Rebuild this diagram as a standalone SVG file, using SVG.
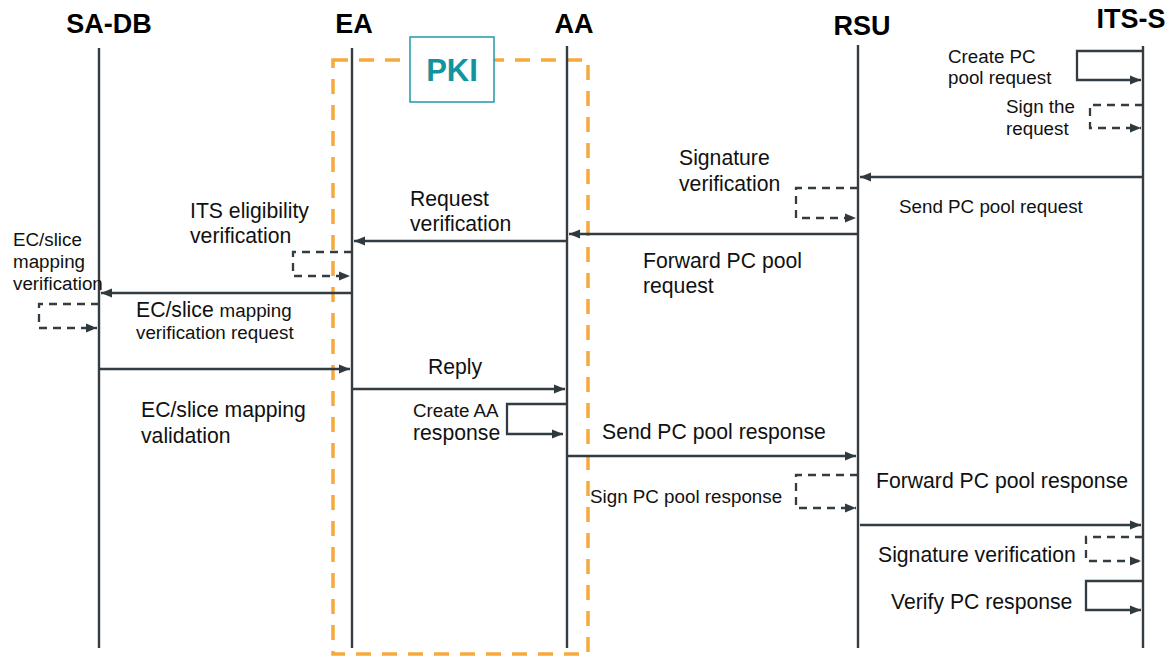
<svg xmlns="http://www.w3.org/2000/svg" width="1175" height="657" viewBox="0 0 1175 657">
<style>
.hdr{font-family:"Liberation Sans",Arial,sans-serif;font-weight:bold;font-size:27px;fill:#000;text-anchor:middle}
.life{stroke:#363d42;stroke-width:2.4;fill:none}
.msg{stroke:#333c42;stroke-width:2.3;fill:none}
.dash{stroke:#333c42;stroke-width:2.3;fill:none;stroke-dasharray:8 6}
.lg{font-family:"Liberation Sans",Arial,sans-serif;font-size:21.2px;fill:#111}
.sm{font-family:"Liberation Sans",Arial,sans-serif;font-size:18.8px;fill:#111}
.pki{fill:none;stroke:#f7a93d;stroke-width:3.5;stroke-dasharray:15 11}
</style>
<defs>
<marker id="ah" markerUnits="userSpaceOnUse" markerWidth="12" markerHeight="10" refX="11" refY="5" orient="auto">
<path d="M0,0.5 L11,5 L0,9.5 z" fill="#2f3a40"/>
</marker>
</defs>
<rect width="1175" height="657" fill="#fff"/>

<g id="pki-boundary">
<rect class="pki" x="333" y="60" width="255" height="594"/>
</g>

<g id="node-sadb">
<text class="hdr" x="109" y="33">SA-DB</text>
<line class="life" x1="99" y1="48" x2="99" y2="648"/>
</g>
<g id="node-ea">
<text class="hdr" x="354" y="33">EA</text>
<line class="life" x1="352" y1="48" x2="352" y2="648"/>
</g>
<g id="node-aa">
<text class="hdr" x="574" y="33">AA</text>
<line class="life" x1="567" y1="46" x2="567" y2="648"/>
</g>
<g id="node-rsu">
<text class="hdr" x="862" y="35">RSU</text>
<line class="life" x1="858" y1="45" x2="858" y2="648"/>
</g>
<g id="node-itss">
<text class="hdr" x="1131" y="28">ITS-S</text>
<line class="life" x1="1143" y1="46" x2="1143" y2="648"/>
</g>
<g id="node-pki">
<rect x="410" y="37" width="84" height="65" fill="#fff" stroke="#1f9aa5" stroke-width="1.5"/>
<text x="452" y="81" text-anchor="middle" font-family="Liberation Sans, Arial, sans-serif" font-weight="bold" font-size="31" fill="#12949e">PKI</text>
</g>

<g id="connectors">
<path class="msg" d="M1143,51 H1077 V80 H1141" marker-end="url(#ah)"/>
<path class="dash" d="M1143,105 H1090 V128 H1141" marker-end="url(#ah)"/>
<path class="msg" d="M1143,177 H860" marker-end="url(#ah)"/>
<path class="dash" d="M858,188 H796 V218 H856" marker-end="url(#ah)"/>
<path class="msg" d="M858,234 H569" marker-end="url(#ah)"/>
<path class="msg" d="M567,241 H354" marker-end="url(#ah)"/>
<path class="dash" d="M352,252 H293 V276 H350" marker-end="url(#ah)"/>
<path class="msg" d="M352,293 H101" marker-end="url(#ah)"/>
<path class="dash" d="M99,304 H39 V328 H97" marker-end="url(#ah)"/>
<path class="msg" d="M99,369 H350" marker-end="url(#ah)"/>
<path class="msg" d="M352,389 H565" marker-end="url(#ah)"/>
<path class="msg" d="M567,404 H507 V434 H563" marker-end="url(#ah)"/>
<path class="msg" d="M567,456 H856" marker-end="url(#ah)"/>
<path class="dash" d="M858,475 H796 V508 H856" marker-end="url(#ah)"/>
<path class="msg" d="M860,525 H1141" marker-end="url(#ah)"/>
<path class="dash" d="M1143,537 H1086 V561 H1141" marker-end="url(#ah)"/>
<path class="msg" d="M1143,581 H1086 V610 H1141" marker-end="url(#ah)"/>

<g id="labels">
<text class="sm" x="948" y="63">Create PC</text>
<text class="sm" x="948" y="84">pool request</text>
<text class="sm" x="1006" y="113">Sign the</text>
<text class="sm" x="1006" y="135">request</text>
<text class="lg" x="679" y="165">Signature</text>
<text class="lg" x="679" y="191">verification</text>
<text class="sm" x="899" y="213">Send PC pool request</text>
<text class="lg" x="410" y="206">Request</text>
<text class="lg" x="410" y="231">verification</text>
<text class="lg" x="190" y="218">ITS eligibility</text>
<text class="lg" x="190" y="243">verification</text>
<text class="sm" x="13" y="246">EC/slice</text>
<text class="sm" x="13" y="268">mapping</text>
<text class="sm" x="13" y="290">verification</text>
<text class="lg" x="643" y="268">Forward PC pool</text>
<text class="lg" x="643" y="293">request</text>
<text x="136" y="317"><tspan class="lg">EC/slice </tspan><tspan class="sm">mapping</tspan></text>
<text class="sm" x="136" y="339">verification request</text>
<text class="lg" x="428" y="374">Reply</text>
<text class="lg" x="141" y="417">EC/slice mapping</text>
<text class="lg" x="141" y="443">validation</text>
<text class="sm" x="413" y="417">Create AA</text>
<text class="lg" x="413" y="440">response</text>
<text class="lg" x="602" y="439">Send PC pool response</text>
<text class="sm" x="590" y="503">Sign PC pool response</text>
<text class="lg" x="876" y="488">Forward PC pool response</text>
<text class="lg" x="878" y="562">Signature verification</text>
<text class="lg" x="891" y="609">Verify PC response</text>
</g>
</g>
</svg>
